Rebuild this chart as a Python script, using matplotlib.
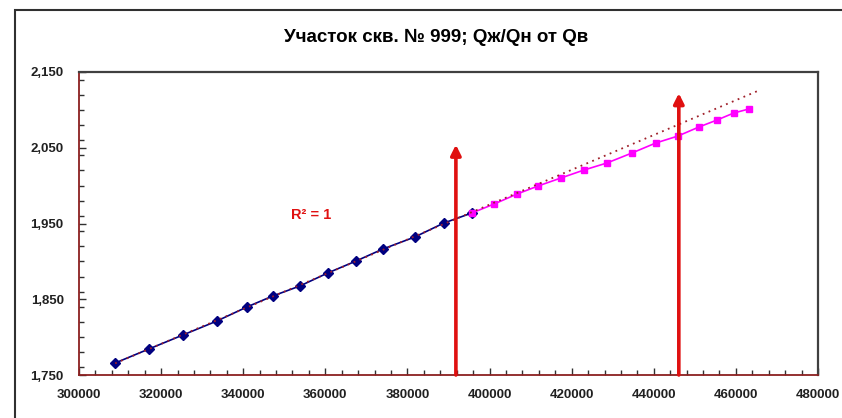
import numpy as np
import matplotlib
matplotlib.use("Agg")
import matplotlib.pyplot as plt
from matplotlib.patches import Rectangle
from matplotlib.ticker import MultipleLocator, FuncFormatter

# ---- data ----
blue_x = [308800, 317000, 325300, 333600, 340900, 347200, 353800, 360600,
          367500, 374000, 381800, 388900, 395700]
blue_y = [1.7658, 1.7843, 1.8028, 1.8213, 1.8398, 1.8543, 1.8675, 1.8847,
          1.9005, 1.9163, 1.9322, 1.9507, 1.9639]
mag_x = [395700, 401100, 406700, 411800, 417400, 423000, 428600, 434700,
         440500, 445900, 451000, 455400, 459500, 463200]
mag_y = [1.9639, 1.9757, 1.9889, 1.9995, 2.0101, 2.0206, 2.0299, 2.0431,
         2.0563, 2.0655, 2.0774, 2.0866, 2.0959, 2.1012]
trend_end_x = 466000
arrow_x = [391800, 446100]
arrow_top = [2.054, 2.122]
title = "Участок скв. № 999; Qж/Qн от Qв"
r2_text = "R² = 1"
x_ticks = [300000, 320000, 340000, 360000, 380000, 400000, 420000, 440000, 460000, 480000]
y_ticks = [1.75, 1.85, 1.95, 2.05, 2.15]

W, H = 842, 418
fig = plt.figure(figsize=(W / 100, H / 100), dpi=100)
fig.patch.set_facecolor("white")

# outer chart frame (left/top visible)
fig.patches.append(Rectangle((15 / W, -0.2), 1.5, 1.2 - 10 / H,
                             transform=fig.transFigure, fill=False,
                             edgecolor="#303030", linewidth=1.5))

ax = fig.add_axes([79 / W, 1 - 375 / H, (818 - 79) / W, (375 - 72) / H])
ax.set_xlim(300000, 480000)
ax.set_ylim(1.75, 2.15)

fam = ["Liberation Sans", "DejaVu Sans"]

# series
ax.plot(blue_x, blue_y, color="#000080", lw=1.2, marker="D", ms=5.5,
        mfc="#000080", mec="#000080", zorder=3, clip_on=False)
ax.plot(mag_x, mag_y, color="#FF00FF", lw=1.2, marker="s", ms=4.5,
        mfc="#FF00FF", mec="#FF00FF", zorder=4, clip_on=False)

# linear trendline of the first series with forward forecast
k, b = np.polyfit(blue_x, blue_y, 1)
tx = np.array([blue_x[0], trend_end_x])
ax.plot(tx, k * tx + b, color="#A0202A", lw=1.3, ls=(0, (1, 2.5)), zorder=5)

# red arrows
for xa, ya in zip(arrow_x, arrow_top):
    ax.annotate("", xy=(xa, ya), xytext=(xa, 1.75),
                arrowprops=dict(arrowstyle="-|>", color="#E01010", lw=2.6,
                                mutation_scale=15, shrinkA=0, shrinkB=0),
                zorder=6)

ax.text(311 / W, 1 - 215 / H, r2_text, transform=fig.transFigure,
        color="#E01010", fontsize=10.5, fontweight="bold", family=fam,
        ha="center", va="center")

fig.text(436 / W, 1 - 37 / H, title, ha="center", va="center",
         fontsize=13.5, fontweight="bold", family=fam, color="black")

# axes styling
for s in ["top", "right"]:
    ax.spines[s].set_color("#404040")
    ax.spines[s].set_linewidth(1.6)
for s in ["left", "bottom"]:
    ax.spines[s].set_color("#8B2020")
    ax.spines[s].set_linewidth(1.3)

ax.set_xticks(x_ticks)
ax.set_yticks(y_ticks)
ax.xaxis.set_minor_locator(MultipleLocator(4000))
ax.yaxis.set_minor_locator(MultipleLocator(0.02))
ax.yaxis.set_major_formatter(FuncFormatter(lambda v, p: f"{v:.3f}".replace(".", ",")))
ax.xaxis.set_major_formatter(FuncFormatter(lambda v, p: f"{int(round(v))}"))
ax.tick_params(axis="both", which="both", direction="in", color="#303030",
               top=False, right=False)
ax.tick_params(axis="both", which="major", length=5, width=1)
ax.tick_params(axis="both", which="minor", length=3.5, width=1)
ax.tick_params(axis="y", which="major", pad=11)
ax.tick_params(axis="x", which="major", pad=10)
for lab in ax.get_xticklabels() + ax.get_yticklabels():
    lab.set_family(fam)
    lab.set_fontsize(9.5)
    lab.set_fontweight("bold")
    lab.set_color("#202020")

fig.savefig("out.png", dpi=100, facecolor="white")
